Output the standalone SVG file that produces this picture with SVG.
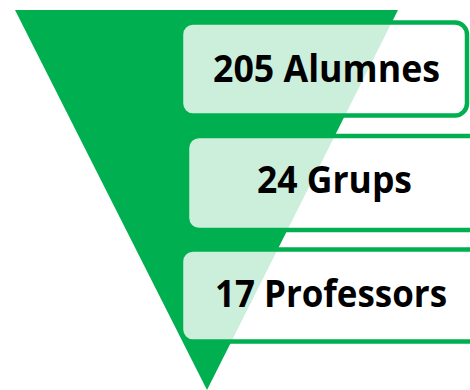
<svg xmlns="http://www.w3.org/2000/svg" width="470" height="390" viewBox="0 0 470 390">
  <style>
    .box { fill: #ffffff; fill-opacity: 0.8; stroke: #00B050; stroke-width: 4.5; }
    .lbl { font-family: "Open Sans", Lato, "Liberation Sans", sans-serif; font-weight: bold; font-size: 37px; fill: #000000; text-anchor: middle; }
  </style>
  <rect width="470" height="390" fill="#ffffff"/>
  <g id="funnel">
    <polygon points="15,10 398,10 207,390" fill="#00B050"/>
  </g>
  <g id="node-alumnes">
    <rect class="box" x="181" y="22.5" width="286" height="93" rx="12"/>
    <text class="lbl" x="326.5" y="82" textLength="227" lengthAdjust="spacingAndGlyphs">205 Alumnes</text>
  </g>
  <g id="node-grups">
    <rect class="box" x="187" y="136" width="300" height="94" rx="12"/>
    <text class="lbl" x="334.5" y="193" textLength="155" lengthAdjust="spacingAndGlyphs">24 Grups</text>
  </g>
  <g id="node-professors">
    <rect class="box" x="181" y="249.5" width="300" height="92" rx="12"/>
    <text class="lbl" x="331" y="307" textLength="232" lengthAdjust="spacingAndGlyphs">17 Professors</text>
  </g>
  <g id="connectors"></g>
</svg>
